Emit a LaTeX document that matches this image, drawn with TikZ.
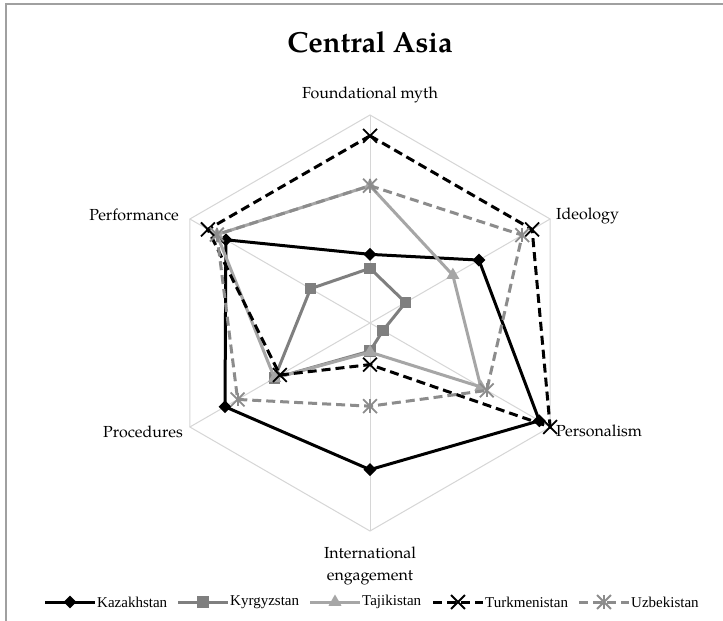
\documentclass[tikz,border=0pt]{standalone}
\usepackage{fontspec}
\setmainfont{Liberation Serif}
\newfontfamily\pal{texgyrepagella-regular.otf}[BoldFont=texgyrepagella-bold.otf]
\usetikzlibrary{calc,shapes.geometric,shapes.misc}
\definecolor{gridc}{HTML}{D6D6D6}
\definecolor{kyrc}{HTML}{7F7F7F}
\definecolor{tajc}{HTML}{A6A6A6}
\definecolor{uzbc}{HTML}{8C8C8C}
\definecolor{framec}{HTML}{A0A0A0}
\tikzset{
  gridline/.style={draw=gridc, line width=1pt},
  kazline/.style={draw=black, line width=3pt, line join=round},
  kyrline/.style={draw=kyrc, line width=3pt, line join=round},
  tajline/.style={draw=tajc, line width=3pt, line join=round},
  turline/.style={draw=black, line width=3pt, dash pattern=on 9pt off 5pt},
  uzbline/.style={draw=uzbc, line width=3pt, dash pattern=on 9pt off 5pt},
  kazmark/.style={diamond, fill=black, inner sep=0pt, minimum width=13pt, minimum height=13pt},
  kyrmark/.style={rectangle, fill=kyrc, inner sep=0pt, minimum size=11.5pt},
  tajmark/.style={regular polygon, regular polygon sides=3, fill=tajc, inner sep=0pt, minimum size=15pt},
  turmark/.style={cross out, draw=black, line width=1.8pt, inner sep=0pt, minimum size=12pt},
  uzbmark/.style={cross out, draw=uzbc, line width=1.8pt, inner sep=0pt, minimum size=12pt,
     append after command={(\tikzlastnode.north) edge[draw=uzbc, line width=1.8pt] (\tikzlastnode.south)}},
  axislabel/.style={font=\pal\fontsize{16}{18}\selectfont, inner sep=0pt},
  legtext/.style={font=\fontsize{15}{17}\selectfont, inner sep=0pt, anchor=west},
}
\newcommand\radarpts[2]{%
  \foreach \v [count=\i] in {#2} {%
    \pgfmathsetmacro\ang{150-60*\i}%
    \coordinate (#1\i) at ($(O)+(\ang:{\v*208})$);
  }%
}
\begin{document}
\begin{tikzpicture}[x=1pt,y=1pt]
\useasboundingbox (0,0) rectangle (723,-621);
\fill[white] (0,0) rectangle (723,-621);
\draw[draw=framec, line width=1.3pt] (6,-621) -- (6,-4) -- (723,-4);

\node[font=\pal\bfseries\fontsize{29}{32}\selectfont] (title) at (370,-42) {Central Asia};

\coordinate (O) at (370,-323);
\foreach \n [count=\i] in {fm,id,pe,ie,pr,pf} {
  \pgfmathsetmacro\ang{150-60*\i}
  \coordinate (v\n) at ($(O)+(\ang:208)$);
  \draw[gridline] (O) -- (v\n);
}
\draw[gridline] (vfm) -- (vid) -- (vpe) -- (vie) -- (vpr) -- (vpf) -- cycle;

\node[axislabel] (lfm) at (370,-95) {Foundational myth};
\node[axislabel, anchor=west] (lid) at (556,-216) {Ideology};
\node[axislabel, anchor=west] (lpe) at (556,-431) {Personalism};
\node[axislabel] (lie1) at (370,-553) {International};
\node[axislabel] (lie2) at (370,-578) {engagement};
\node[axislabel, anchor=east] (lpr) at (183,-432) {Procedures};
\node[axislabel, anchor=east] (lpf) at (179,-215) {Performance};

\radarpts{kaz}{0.33,0.605,0.94,0.705,0.805,0.80}
\radarpts{kyr}{0.263,0.197,0.072,0.135,0.53,0.33}
\radarpts{taj}{0.66,0.46,0.615,0.14,0.53,0.85}
\radarpts{tur}{0.90,0.90,1.0,0.20,0.50,0.90}
\radarpts{uzb}{0.66,0.845,0.648,0.40,0.735,0.85}

\foreach \c in {kaz,kyr,taj,tur,uzb} {
  \draw[\c line] (\c1) -- (\c2) -- (\c3) -- (\c4) -- (\c5) -- (\c6) -- cycle;
  \foreach \i in {1,...,6} \node[\c mark] (\c m\i) at (\c\i) {};
}

% legend
\coordinate (kazL) at (45,-602);
\coordinate (kazR) at (95,-602);
\draw[kazline] (kazL) -- (kazR);
\node[kazmark] (kazlm) at ($(kazL)!0.5!(kazR)$) {};
\node[legtext] (kazt) at (97,-602) {Kazakhstan};

\coordinate (kyrL) at (178,-602);
\coordinate (kyrR) at (228,-602);
\draw[kyrline] (kyrL) -- (kyrR);
\node[kyrmark] (kyrlm) at ($(kyrL)!0.5!(kyrR)$) {};
\node[legtext] (kyrt) at (230,-602) {Kyrgyzstan};

\coordinate (tajL) at (310,-602);
\coordinate (tajR) at (360,-602);
\draw[tajline] (tajL) -- (tajR);
\node[tajmark] (tajlm) at ($(tajL)!0.5!(tajR)$) {};
\node[legtext] (tajt) at (362,-602) {Tajikistan};

\coordinate (turL) at (433,-602);
\coordinate (turR) at (483,-602);
\draw[turline] (turL) -- (turR);
\node[turmark] (turlm) at ($(turL)!0.5!(turR)$) {};
\node[legtext] (turt) at (485,-602) {Turkmenistan};

\coordinate (uzbL) at (579,-602);
\coordinate (uzbR) at (629,-602);
\draw[uzbline] (uzbL) -- (uzbR);
\node[uzbmark] (uzblm) at ($(uzbL)!0.5!(uzbR)$) {};
\node[legtext] (uzbt) at (631,-602) {Uzbekistan};
\end{tikzpicture}
\end{document}
